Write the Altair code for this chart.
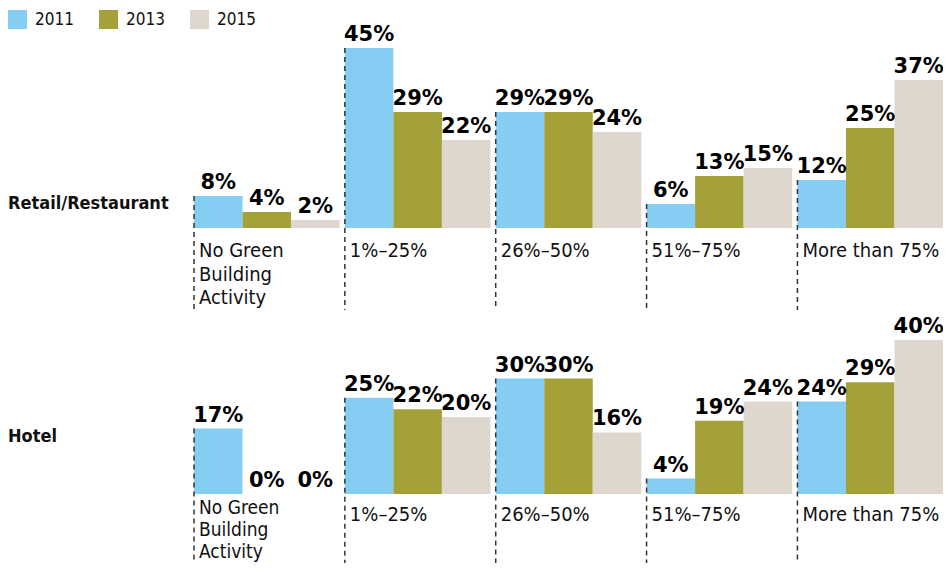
import altair as alt
import pandas as pd

categories = ["No Green Building Activity", "1%–25%", "26%–50%", "51%–75%", "More than 75%"]
cat_labels = ["No Green\nBuilding\nActivity", "1%–25%", "26%–50%", "51%–75%", "More than 75%"]
years = ["2011", "2013", "2015"]
colors = ["#85CDF2", "#A3A138", "#DFD7CD"]

retail_2011 = [8, 45, 29, 6, 12]
retail_2013 = [4, 29, 29, 13, 25]
retail_2015 = [2, 22, 24, 15, 37]

hotel_2011 = [17, 25, 30, 4, 24]
hotel_2013 = [0, 22, 30, 19, 29]
hotel_2015 = [0, 20, 16, 24, 40]

panels = [
    ("Retail/Restaurant", [retail_2011, retail_2013, retail_2015], 45, 180),
    ("Hotel", [hotel_2011, hotel_2013, hotel_2015], 40, 154),
]

label_font = "DejaVu Sans Condensed"
value_font = "DejaVu Sans"
W = 749


def make_panel(name, series, ymax, h, first):
    rows = []
    for yr, vals in zip(years, series):
        for c, v in zip(categories, vals):
            rows.append({"cat": c, "year": yr, "value": v, "label": f"{v}%"})
    df = pd.DataFrame(rows)
    multi_df = pd.DataFrame({"cat": categories[:1], "txt": cat_labels[:1]})
    single_df = pd.DataFrame({"cat": categories[1:], "txt": cat_labels[1:]})
    row_df = pd.DataFrame({"name": [name]})

    xenc = alt.X("cat:N", sort=categories, axis=None,
                 scale=alt.Scale(paddingInner=0.035, paddingOuter=0))
    xstart = alt.X("cat:N", sort=categories, bandPosition=0, axis=None)
    xoff = alt.XOffset("year:N", sort=years,
                       scale=alt.Scale(paddingInner=0, paddingOuter=0))
    yenc = alt.Y("value:Q", axis=None,
                 scale=alt.Scale(domain=[0, ymax], nice=False, zero=True))
    if first:
        legend = alt.Legend(title=None, orient="none", legendX=-186, legendY=-38,
                            direction="horizontal", symbolType="square",
                            symbolSize=361, symbolStrokeWidth=0, labelFontSize=17,
                            labelFont=label_font, labelColor="#111", labelOffset=8,
                            columnPadding=25, padding=0)
    else:
        legend = None
    cenc = alt.Color("year:N", sort=years,
                     scale=alt.Scale(domain=years, range=colors), legend=legend)

    base = alt.Chart(df)
    bars = base.mark_bar().encode(x=xenc, xOffset=xoff, y=yenc, color=cenc)
    texts = base.mark_text(font=value_font, fontWeight="bold", fontSize=21,
                           baseline="bottom", dy=-3, color="#000").encode(
        x=xenc, xOffset=xoff, y=yenc, text="label:N")
    rule_len = 82 if first else 69
    rules = base.transform_filter(alt.datum.year == "2011").mark_rule(
        color="#333", strokeDash=[5, 4], strokeWidth=1.5).encode(
        x=xstart, y=yenc, y2=alt.value(h + rule_len))
    single_text = alt.Chart(single_df).mark_text(
        font=label_font, fontSize=20, align="left", baseline="alphabetic",
        dx=5, color="#111").encode(
        x=xstart, y=alt.value(h + (29 if first else 27)), text="txt:N")
    if first:
        mfs, mlh, mb = 20, 23.5, h + 29
    else:
        mfs, mlh, mb = 19, 22.2, h + 20
    multi_text = alt.Chart(multi_df).mark_text(
        font=label_font, fontSize=mfs, align="left", baseline="alphabetic",
        lineBreak="\n", lineHeight=mlh, dx=5, color="#111").encode(
        x=xstart, y=alt.value(mb), text="txt:N")
    row_text = alt.Chart(row_df).mark_text(
        font=label_font, fontWeight="bold", fontSize=18, align="left",
        baseline="middle", color="#111").encode(
        x=alt.value(-186), y=alt.value(156 if first else 97), text="name:N")
    return alt.layer(bars, rules, texts, single_text, multi_text, row_text).properties(
        width=W, height=h)


p1 = make_panel(*panels[0], True)
p2 = make_panel(*panels[1], False)

chart = alt.vconcat(p1, p2, spacing=5).resolve_legend(color="independent").properties(
    padding={"left": 0, "top": 2, "right": -1, "bottom": 0}
).configure_view(stroke=None)

chart.save("out.html", embed_options={"renderer": "svg", "actions": False})
